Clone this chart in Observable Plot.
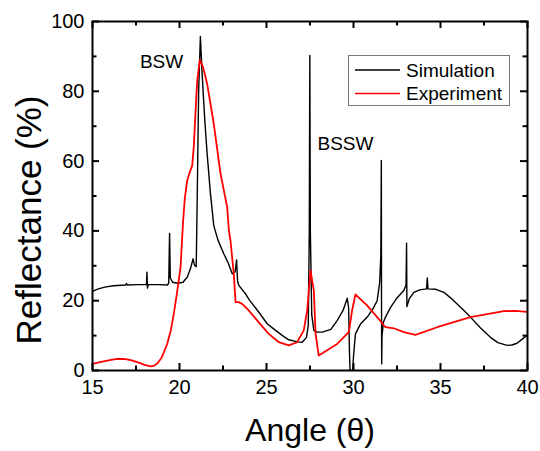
<!DOCTYPE html>
<html>
<head>
<meta charset="utf-8">
<script src="https://cdn.jsdelivr.net/npm/d3@7"></script>
<script src="https://cdn.jsdelivr.net/npm/@observablehq/plot@0.6"></script>
<style>
  html, body { margin: 0; padding: 0; background: #fff; }
  #chart svg { display: block; }
</style>
</head>
<body>
<div id="chart"></div>
<script>
// Simulation curve: [angle, reflectance]
const simAngle = [15.0,15.3,15.7,16.2,16.9,16.95,17.0,17.6,18.1,18.13,18.16,18.2,18.8,19.3,19.38,19.43,19.47,19.6,19.9,20.2,20.45,20.63,20.78,20.86,20.96,21.02,21.1,21.2,21.3,21.45,21.59,21.78,21.97,22.2,22.55,22.8,23.03,23.2,23.28,23.34,23.41,23.79,24.0,24.56,25.04,25.52,26.0,26.28,26.8,27.05,27.3,27.4,27.46,27.49,27.52,27.6,27.72,27.91,28.2,28.7,29.06,29.4,29.64,29.72,29.77,29.8,29.95,30.0,30.11,30.4,30.79,31.1,31.36,31.5,31.57,31.6,31.61,31.62,31.64,31.72,31.84,32.13,32.5,32.89,33.02,33.05,33.07,33.2,33.47,33.8,34.2,34.24,34.28,34.7,35.19,35.7,36.2,36.72,37.3,37.87,38.3,38.83,39.1,39.4,39.7,40.0];
const simValue = [22.7,23.3,23.9,24.3,24.5,24.9,24.5,24.6,24.6,28.2,23.6,24.6,24.6,24.5,25.0,39.3,26.5,25.3,25.0,25.3,26.8,29.2,32.0,30.2,29.7,50,80,95.7,85,72,62,50.6,41.5,37.5,33.4,30.8,27.7,28.3,31.7,25.5,24.4,22.0,20.3,16.7,13.4,11.5,9.7,8.8,8.2,8.1,9.5,13,40,90.3,40,16,11.5,11.0,11.0,11.8,14.3,17.2,20.7,18,5,0,0,4,10.5,13.3,15.3,17.5,20,25,33,60.2,20,1.9,10,13.8,15.3,18.1,20.8,22.9,24.5,36.5,18.3,20.5,22.4,23.1,23.4,26.5,23.4,23.3,22.4,20.3,17.9,15.3,12.2,9.5,8.0,7.2,7.3,7.8,9.0,10.2];

// Experiment curve: [angle, reflectance]
const expAngle = [15.0,15.5,16.0,16.4,16.8,17.2,17.57,18.0,18.33,18.55,18.72,18.95,19.1,19.29,19.5,19.67,19.85,20.06,20.21,20.3,20.44,20.6,20.73,20.82,20.92,21.02,21.17,21.35,21.59,21.97,22.36,22.74,22.84,22.93,23.12,23.22,23.4,23.6,23.98,24.56,25.13,25.71,26.28,26.76,27.14,27.34,27.53,27.72,27.82,28.0,29.06,29.73,29.92,30.11,30.79,31.36,31.84,32.32,32.89,33.56,34.81,36.72,38.64,39.3,40.0];
const expValue = [1.9,2.5,3.0,3.3,3.3,3.0,2.4,1.6,1.2,1.4,2.0,3.5,5.2,7.6,11.5,16.2,22,29.6,43,49,54.4,57.0,58.7,64,74,83.1,89,87,82.1,70.7,56.3,46.8,40.1,37.2,27.7,19.6,19.6,19.1,17.2,13.8,10.5,8.1,7.2,8.1,11.5,17.2,28.7,22.9,10.6,4.3,7.6,11.0,17.2,21.8,18.6,15.3,12.4,12.1,11.0,10.2,12.4,15.3,17.0,17.1,16.8];

// Axis ticks
const xMajor = [15, 20, 25, 30, 35, 40];
const xMinor = [17.5, 22.5, 27.5, 32.5, 37.5];
const yMajor = [0, 20, 40, 60, 80, 100];
const yMinor = [10, 30, 50, 70, 90];

// Annotations
const annoText = ["BSW", "BSSW"];
const annoX = [18.97, 27.93];
const annoY = [86.8, 63.3];

const seriesNames = ["Simulation", "Experiment"];
const seriesColors = ["#000000", "#ff0000"];

const sim = simAngle.map((a, i) => ({x: a, y: simValue[i]}));
const exp = expAngle.map((a, i) => ({x: a, y: expValue[i]}));

const font = "'Liberation Sans', Arial, sans-serif";

const W = 540, H = 451, mL = 92, mR = 13, mT = 21, mB = 81;
const xDom = [15, 40], yDom = [0, 100];
const innerW = W - mL - mR, innerH = H - mT - mB;
const pxX = (xDom[1] - xDom[0]) / innerW, pxY = (yDom[1] - yDom[0]) / innerH;
const majLen = 7, minLen = 4.5;

function xTicks(vals, len) {
  const dy = len * pxY;
  return [
    Plot.ruleX(vals, {x: d => d, y1: yDom[0], y2: yDom[0] + dy, stroke: "#000", strokeWidth: 2}),
    Plot.ruleX(vals, {x: d => d, y1: yDom[1] - dy, y2: yDom[1], stroke: "#000", strokeWidth: 2})
  ];
}
function yTicks(vals, len) {
  const dx = len * pxX;
  return [
    Plot.ruleY(vals, {y: d => d, x1: xDom[0], x2: xDom[0] + dx, stroke: "#000", strokeWidth: 2}),
    Plot.ruleY(vals, {y: d => d, x1: xDom[1] - dx, x2: xDom[1], stroke: "#000", strokeWidth: 2})
  ];
}

const chart = Plot.plot({
  width: W,
  height: H,
  marginLeft: mL,
  marginRight: mR,
  marginTop: mT,
  marginBottom: mB,
  style: {fontFamily: font, background: "#fff", color: "#000"},
  x: {domain: xDom},
  y: {domain: yDom},
  marks: [
    Plot.axisX({anchor: "bottom", ticks: xMajor, tickSize: 0, tickPadding: 9, fontSize: 20, label: null}),
    Plot.axisY({anchor: "left", ticks: yMajor, tickSize: 0, tickPadding: 8, fontSize: 20, label: null}),
    ...xTicks(xMajor, majLen),
    ...xTicks(xMinor, minLen),
    ...yTicks(yMajor, majLen),
    ...yTicks(yMinor, minLen),
    Plot.line(sim, {x: "x", y: "y", stroke: seriesColors[0], strokeWidth: 1.4, clip: true}),
    Plot.line(exp, {x: "x", y: "y", stroke: seriesColors[1], strokeWidth: 1.8, clip: true}),
    Plot.text([0], {x: annoX[0], y: annoY[0], text: [annoText[0]], textAnchor: "middle", lineAnchor: "bottom", fontSize: 19, fill: "#000"}),
    Plot.text([0], {x: annoX[1], y: annoY[1], text: [annoText[1]], textAnchor: "start", lineAnchor: "bottom", fontSize: 19, fill: "#000"}),
    Plot.frame({stroke: "#000", strokeWidth: 2})
  ]
});

document.getElementById("chart").appendChild(chart);

const svg = d3.select(chart);

// Axis titles
svg.append("text")
  .attr("x", 310).attr("y", 441)
  .attr("text-anchor", "middle")
  .attr("font-family", font).attr("font-size", 32).attr("fill", "#000")
  .text("Angle (θ)");
svg.append("text")
  .attr("transform", "translate(41,220) rotate(-90)")
  .attr("text-anchor", "middle")
  .attr("font-family", font).attr("font-size", 35).attr("fill", "#000")
  .text("Reflectance (%)");

// Legend
const lg = svg.append("g");
lg.append("rect").attr("x", 348.5).attr("y", 55.5).attr("width", 161).attr("height", 50)
  .attr("fill", "#fff").attr("stroke", "#777").attr("stroke-width", 1);
seriesNames.forEach((name, i) => {
  const cy = 70 + i * 23.5;
  lg.append("line").attr("x1", 355).attr("x2", 400).attr("y1", cy).attr("y2", cy)
    .attr("stroke", seriesColors[i]).attr("stroke-width", 1.6);
  lg.append("text").attr("x", 406).attr("y", cy + 6.7)
    .attr("text-anchor", "start")
    .attr("font-family", font).attr("font-size", 19).attr("fill", "#000")
    .text(name);
});
</script>
</body>
</html>
